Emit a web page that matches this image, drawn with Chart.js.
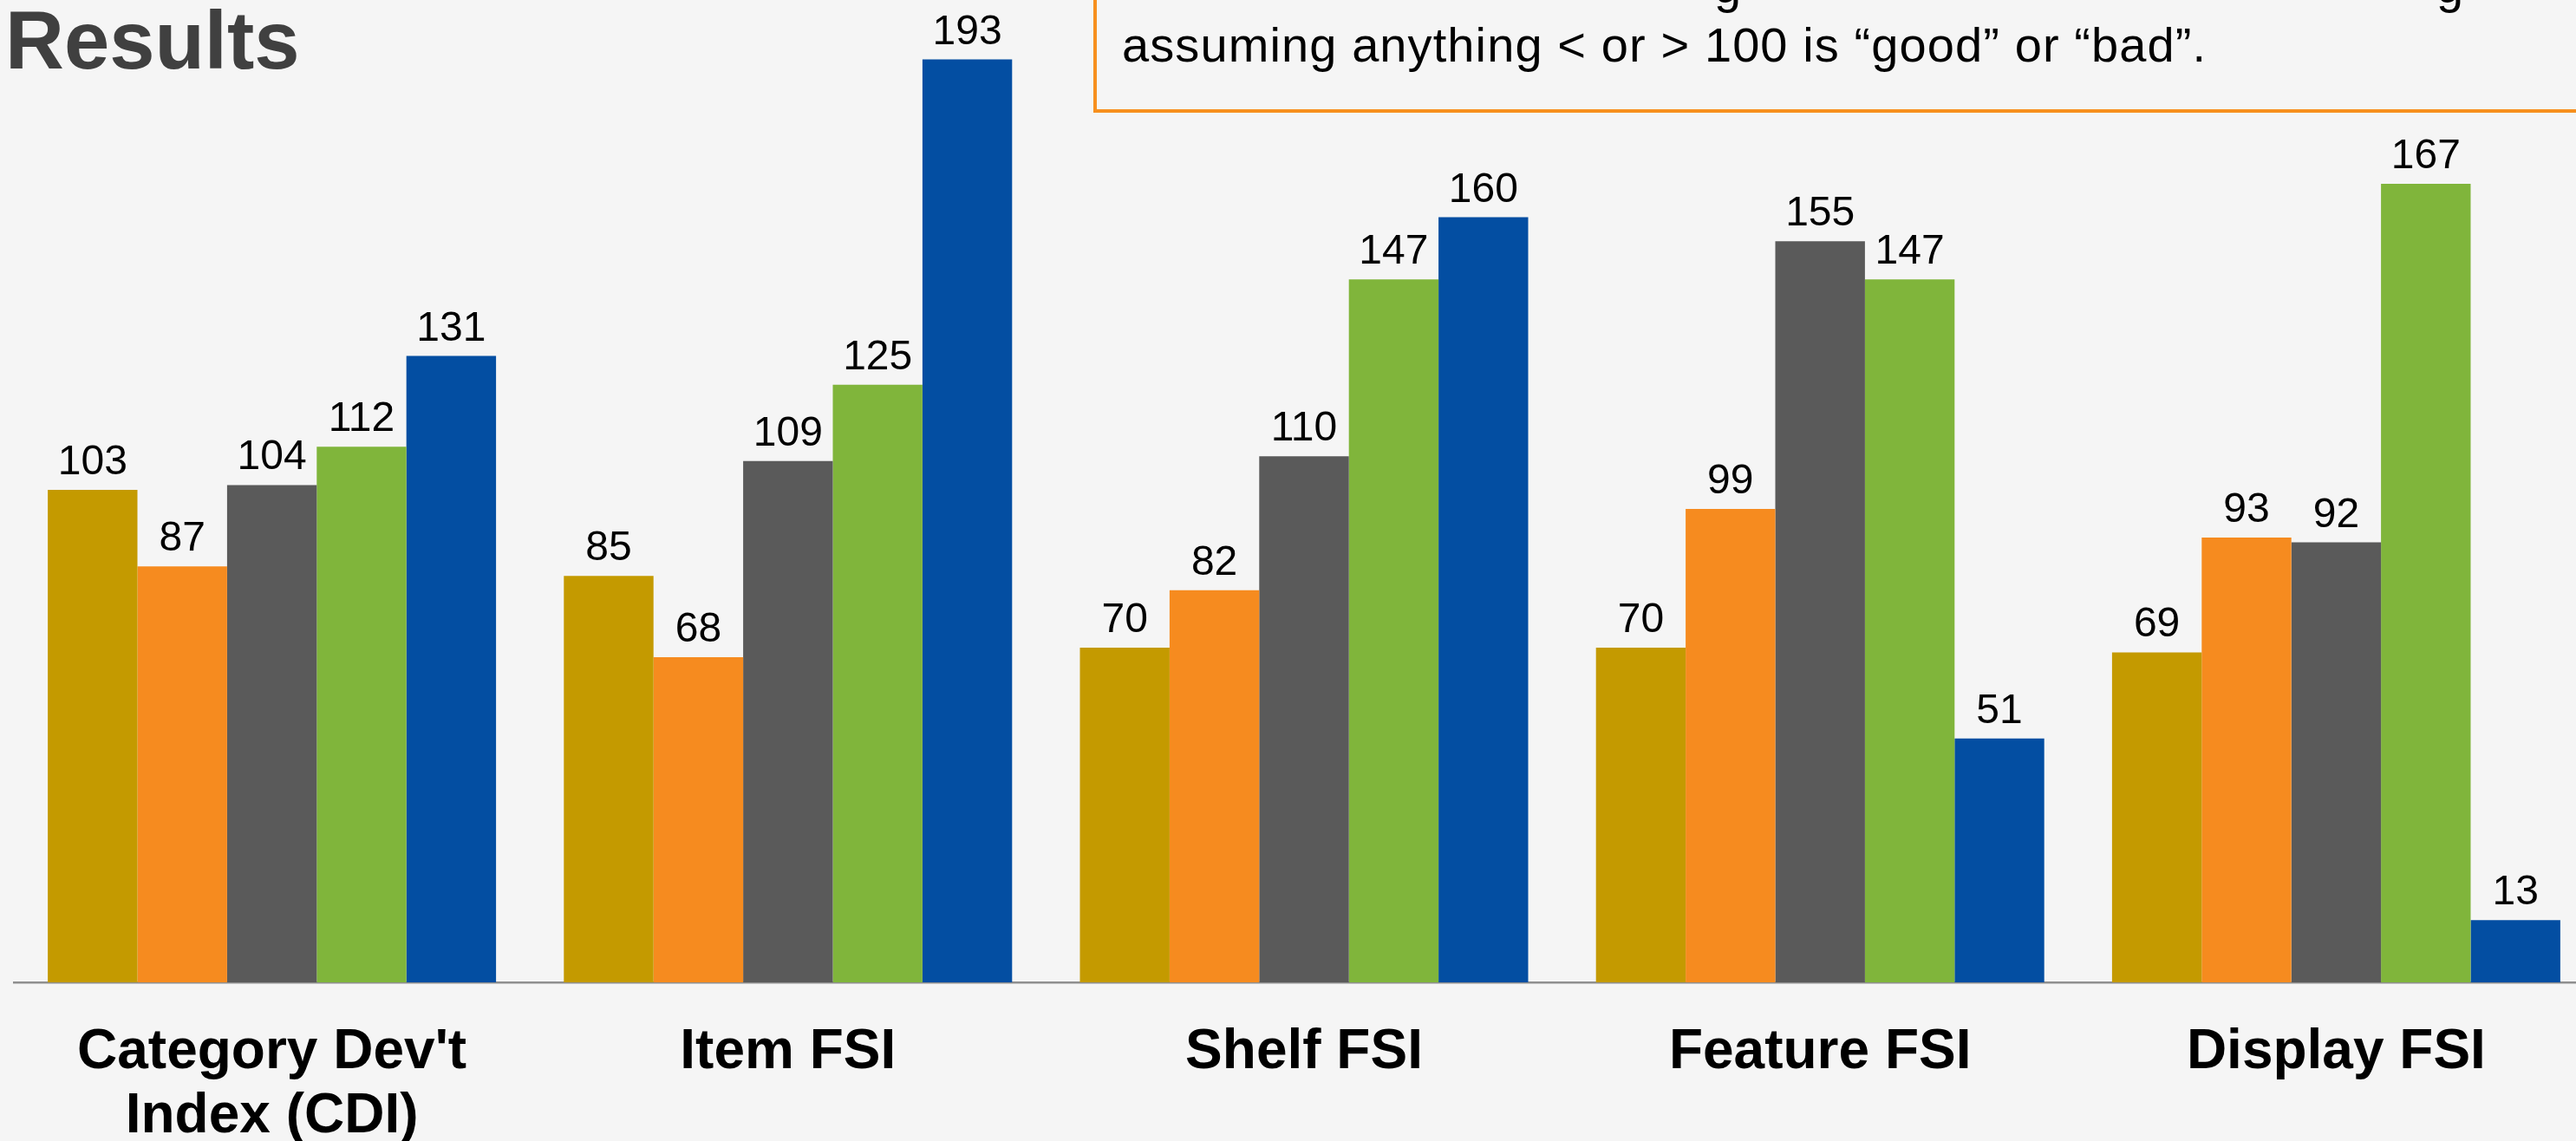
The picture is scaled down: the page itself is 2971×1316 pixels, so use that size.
<!DOCTYPE html>
<html lang="en">
<head>
    <meta charset="UTF-8">
    <title>Results</title>
    <script src="https://cdn.jsdelivr.net/npm/chart.js"></script>
    <style>
        html, body {
            margin: 0;
            padding: 0;
            width: 2971px;
            height: 1316px;
            overflow: hidden;
            background-color: #f5f5f5;
            font-family: "Liberation Sans", Arial, sans-serif;
        }
        .title {
            position: absolute;
            left: 6px;
            top: 0px;
            font-size: 94px;
            line-height: 94px;
            font-weight: bold;
            color: #404040;
            white-space: nowrap;
        }
        .note-box {
            position: absolute;
            left: 1261px;
            top: -40px;
            width: 1800px;
            height: 170px;
            border: 4px solid #f7901e;
            box-sizing: border-box;
            overflow: hidden;
            z-index: 2;
        }
        .note-line {
            position: absolute;
            left: 29px;
            font-size: 56px;
            line-height: 56px;
            letter-spacing: 1.1px;
            color: #000;
            white-space: nowrap;
        }
        .chart-container {
            position: absolute;
            left: 0;
            top: 0;
            width: 3000px;
            height: 1316px;
        }
    </style>
</head>
<body>
    <div class="title">Results</div>
    <div class="note-box">
        <span class="note-line" style="top: -8px; left: 712px;" aria-hidden="true">g</span>
        <span class="note-line" style="top: -8px; left: 1545px;" aria-hidden="true">g</span>
        <span class="note-line" style="top: 60px;">assuming anything &lt; or &gt; 100 is “good” or “bad”.</span>
    </div>
    <div class="chart-container">
        <canvas id="resultsChart"></canvas>
    </div>

    <script>
        // Categories along the x axis
        const categories = [["Category Dev't", 'Index (CDI)'], 'Item FSI', 'Shelf FSI', 'Feature FSI', 'Display FSI'];

        // Index values per series (one bar per category)
        const series1 = [103, 85, 70, 70, 69];
        const series2 = [87, 68, 82, 99, 93];
        const series3 = [104, 109, 110, 155, 92];
        const series4 = [112, 125, 147, 147, 167];
        const series5 = [131, 193, 160, 51, 13];

        const seriesColors = ['#c49a00', '#f68b1f', '#5a5a5a', '#80b53b', '#034ea2'];

        const FONT = '"Liberation Sans", Arial, sans-serif';

        // draws the number above each bar
        const valueLabels = {
            id: 'valueLabels',
            afterDatasetsDraw(chart) {
                const ctx = chart.ctx;
                ctx.save();
                ctx.font = '48px ' + FONT;
                ctx.fillStyle = '#000';
                ctx.textAlign = 'center';
                ctx.textBaseline = 'alphabetic';
                chart.data.datasets.forEach((ds, i) => {
                    const meta = chart.getDatasetMeta(i);
                    meta.data.forEach((bar, j) => {
                        ctx.fillText(String(ds.data[j]), bar.x, bar.y - 18);
                    });
                });
                ctx.restore();
            }
        };

        const datasets = [series1, series2, series3, series4, series5].map((values, i) => ({
            label: 'Series ' + (i + 1),
            data: values,
            backgroundColor: seriesColors[i],
            borderWidth: 0,
            barPercentage: 1.0,
            categoryPercentage: 0.8686
        }));

        new Chart(document.getElementById('resultsChart'), {
            type: 'bar',
            data: {
                labels: categories,
                datasets: datasets
            },
            options: {
                responsive: true,
                maintainAspectRatio: false,
                animation: false,
                layout: {
                    padding: { left: 16, right: 8, top: 30, bottom: 0 }
                },
                plugins: {
                    legend: { display: false },
                    tooltip: { enabled: false }
                },
                scales: {
                    x: {
                        grid: { display: false, drawTicks: false },
                        border: { display: true, color: '#8f8f8f', width: 2.5 },
                        ticks: {
                            color: '#000',
                            padding: 44,
                            maxRotation: 0,
                            autoSkip: false,
                            font: { family: FONT, size: 64, weight: 'bold', lineHeight: 1.16 }
                        },
                        afterFit(scale) {
                            scale.height = 183;
                        }
                    },
                    y: {
                        display: false,
                        min: 0,
                        max: 200
                    }
                }
            },
            plugins: [valueLabels]
        });
    </script>
</body>
</html>
